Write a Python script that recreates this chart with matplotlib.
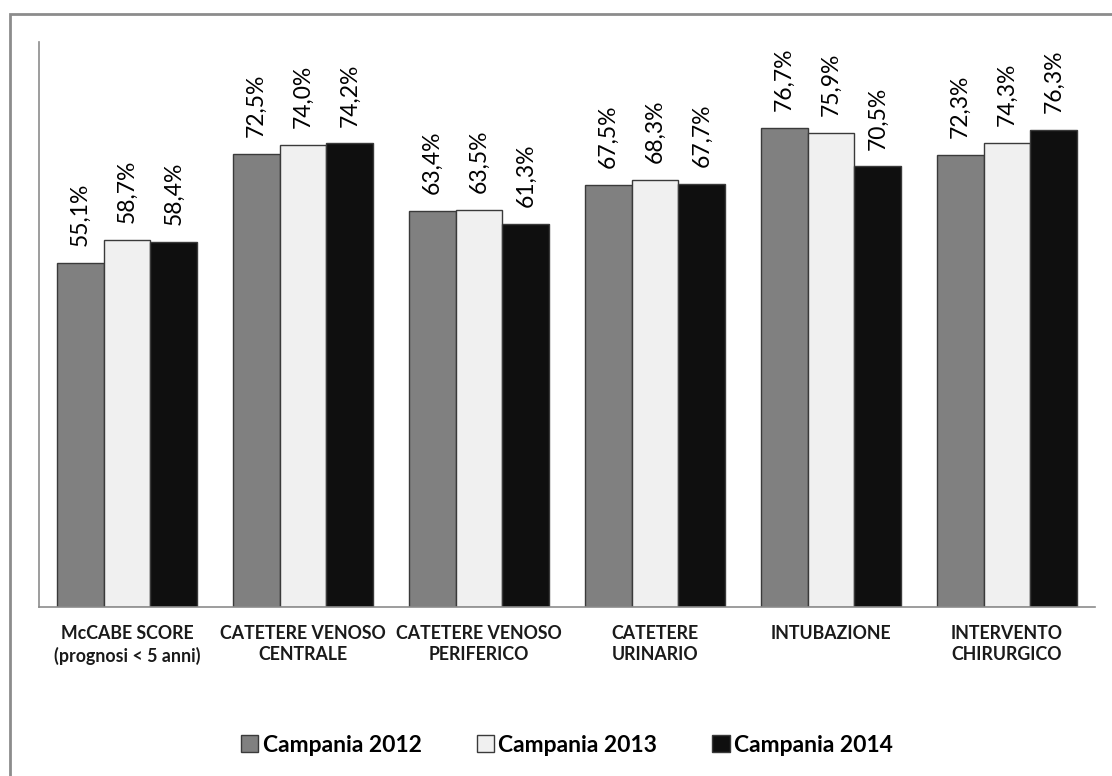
import numpy as np
import matplotlib.pyplot as plt
import matplotlib.patches as mpatches

plt.rcParams['font.family'] = ['Lato', 'DejaVu Sans']

categories = ['McCABE SCORE\n(prognosi < 5 anni)', 'CATETERE VENOSO\nCENTRALE',
              'CATETERE VENOSO\nPERIFERICO', 'CATETERE\nURINARIO',
              'INTUBAZIONE', 'INTERVENTO\nCHIRURGICO']
series_names = ['Campania 2012', 'Campania 2013', 'Campania 2014']
v2012 = [55.1, 72.5, 63.4, 67.5, 76.7, 72.3]
v2013 = [58.7, 74.0, 63.5, 68.3, 75.9, 74.3]
v2014 = [58.4, 74.2, 61.3, 67.7, 70.5, 76.3]
colors = ['#808080', '#f0f0f0', '#0f0f0f']

fig = plt.figure(figsize=(11.12, 7.76), dpi=100)
ax = fig.add_axes([39/1112, 1-607/776, (1095-39)/1112, (607-42)/776])

# outer chart frame (only top and left visible in the picture)
frame = mpatches.Rectangle((10/1112, -0.1), 1.2, (776-14)/776 + 0.1, transform=fig.transFigure,
                           fill=False, edgecolor='#8c8c8c', linewidth=2, clip_on=False)
fig.patches.append(frame)

x = np.arange(len(categories))
w = 0.267
for i, (vals, c, name) in enumerate(zip([v2012, v2013, v2014], colors, series_names)):
    bars = ax.bar(x + (i - 1) * w, vals, w, color=c, edgecolor='#3a3a3a', linewidth=1, label=name)
    for b, v in zip(bars, vals):
        ax.annotate(f"{v:.1f}%".replace('.', ','), (b.get_x() + b.get_width() / 2, v),
                    xytext=(0, 12), textcoords='offset points', rotation=90,
                    ha='center', va='bottom', fontsize=16.5, color='#000000')

ax.set_xlim(-0.5, len(categories) - 0.5)
ax.set_ylim(0, 90.4)
ax.set_yticks([])
ax.set_xticks(x)
ax.set_xticklabels(categories, fontsize=12.8, fontweight='bold', color='#1a1a1a', linespacing=1.3)
ax.tick_params(axis='x', length=0, pad=13)
for s in ['top', 'right']:
    ax.spines[s].set_visible(False)
for s in ['left', 'bottom']:
    ax.spines[s].set_color('#8c8c8c')
    ax.spines[s].set_linewidth(1.2)

fig.legend(loc='center', bbox_to_anchor=(567/1112, 31/776), ncol=3, frameon=False,
           prop={'size': 16.5, 'weight': 'bold'}, handlelength=0.75, handleheight=0.75,
           handletextpad=0.2, columnspacing=2.4)

plt.savefig('out.png', dpi=100)
